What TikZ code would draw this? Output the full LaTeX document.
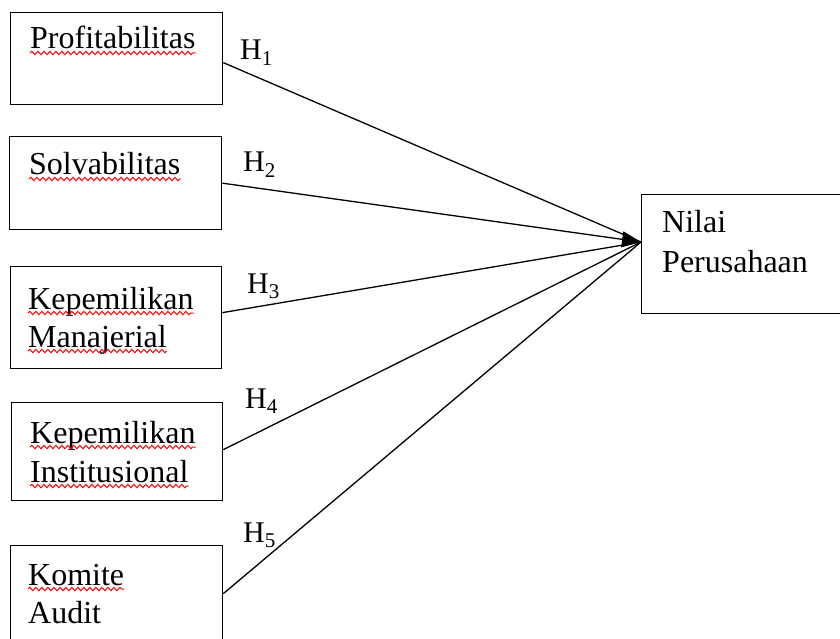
\documentclass[tikz,border=0pt]{standalone}
\usepackage{fontspec}
\setmainfont[Ligatures=NoCommon]{Liberation Serif}
\usetikzlibrary{arrows.meta,decorations.pathmorphing,positioning}

\tikzset{
    box/.style={draw, line width=1.3pt, inner sep=0pt, anchor=north west},
    txt/.style={anchor=base west, inner sep=0pt, font=\fontsize{32}{38}\selectfont},
    hyp/.style={anchor=base west, inner sep=0pt, font=\fontsize{30}{36}\selectfont},
    wavy/.style={red, line width=1pt, decorate,
        decoration={snake, amplitude=1.7pt, segment length=6pt}},
    link/.style={line width=1.3pt},
    tip/.style={-{Triangle[length=19pt,width=16pt]}},
}

\begin{document}
\begin{tikzpicture}[x=1pt, y=-1pt]
        \useasboundingbox (0,0) rectangle (840,639);
        % boxes
        \node [box, minimum width=212pt, minimum height=92pt] (p) at (10,12) {};
        \node [box, minimum width=212pt, minimum height=93pt] (s) at (9,136) {};
        \node [box, minimum width=211pt, minimum height=102pt] (km) at (10,266) {};
        \node [box, minimum width=211pt, minimum height=98pt] (ki) at (11,402) {};
        \node [box, minimum width=212pt, minimum height=96pt] (ka) at (10,545) {};
        \node [box, minimum width=207pt, minimum height=119pt] (n) at (641,194) {};
        \coordinate (hub) at (641,242);
        % texts
        \node [txt] (t1) at (30,49) {Profitabilitas};
        \node [txt] (t2) at (29,175) {Solvabilitas};
        \node [txt] (t3a) at (28,309) {Kepemilikan};
        \node [txt] (t3b) at (28,347) {Manajerial};
        \node [txt] (t4a) at (30,443) {Kepemilikan};
        \node [txt] (t4b) at (30,482) {Institusional};
        \node [txt] (t5a) at (28,585) {Komite};
        \node [txt] (t5b) at (28,623) {Audit};
        \node [txt] (n1) at (662,233) {Nilai};
        \node [txt] (n2) at (662,272) {Perusahaan};
        % spelling marks
        \foreach \t in {t1,t2,t3a,t3b,t4a,t4b,t5a}
            \draw [wavy] ([yshift=-4pt]\t.base west) -- ([yshift=-4pt]\t.base east);
        % hypotheses
        \node [hyp] (h1) at (240,60) {H\textsubscript{1}};
        \node [hyp] (h2) at (243,172) {H\textsubscript{2}};
        \node [hyp] (h3) at (247,293) {H\textsubscript{3}};
        \node [hyp] (h4) at (245,408) {H\textsubscript{4}};
        \node [hyp] (h5) at (243,542) {H\textsubscript{5}};
        % links
        \draw [link] ([yshift=-4pt]p.east) -- (hub);
        \draw [link, tip] (s.east) -- (hub);
        \draw [link] ([yshift=5pt]km.east) -- (hub);
        \draw [link] ([yshift=2pt]ki.east) -- (hub);
        \draw [link] (ka.east) -- (hub);
\end{tikzpicture}
\end{document}
